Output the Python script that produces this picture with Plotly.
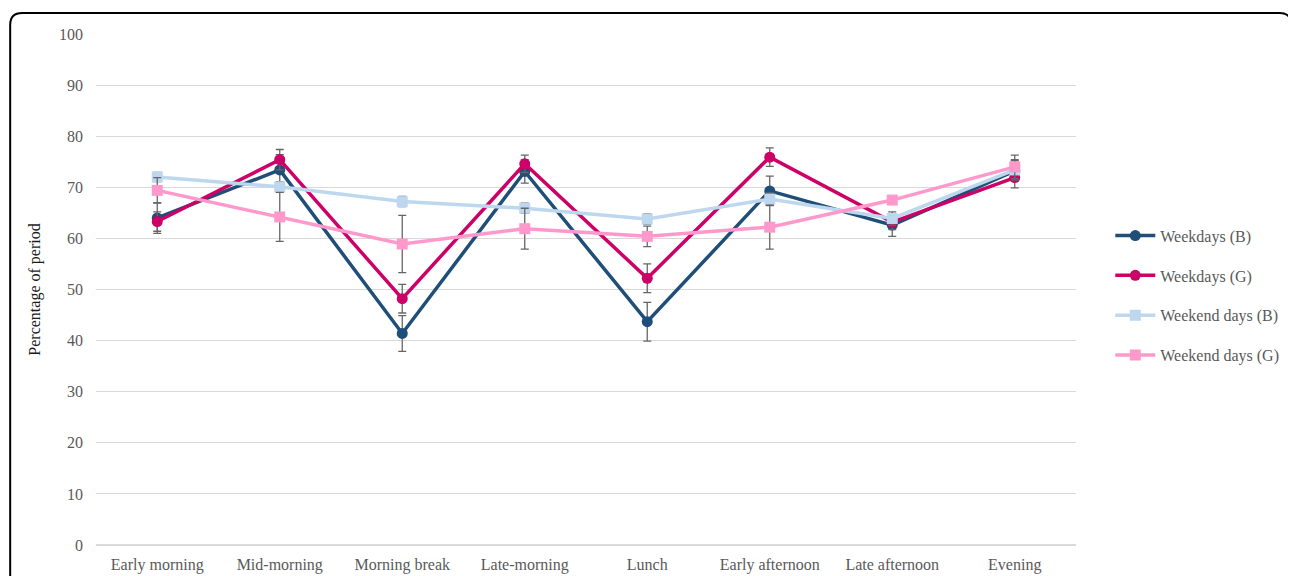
import plotly.graph_objects as go

# ─── DATA ───
categories = ["Early morning", "Mid-morning", "Morning break", "Late-morning",
              "Lunch", "Early afternoon", "Late afternoon", "Evening"]

weekdays_b = [64.0, 73.4, 41.4, 73.1, 43.7, 69.3, 62.6, 73.2]
weekdays_g = [63.3, 75.4, 48.2, 74.6, 52.2, 75.9, 63.2, 71.9]
weekend_b = [72.0, 70.1, 67.2, 65.9, 63.8, 67.7, 63.9, 73.4]
weekend_g = [69.4, 64.2, 58.9, 61.9, 60.4, 62.2, 67.5, 74.0]

weekdays_b_err = [3.0, 3.0, 3.5, 2.3, 3.8, 2.9, 2.2, 2.0]
weekdays_g_err = [1.9, 2.0, 2.8, 1.7, 2.8, 1.8, 1.5, 2.0]
weekend_b_err = [0.9, 1.0, 1.0, 1.0, 1.0, 1.2, 1.3, 2.0]
weekend_g_err = [2.5, 4.8, 5.6, 4.0, 2.0, 4.3, 0.8, 2.3]

y_ticks = list(range(0, 101, 10))

FONT = "Liberation Serif, Times New Roman, serif"
GREY = "#595959"

series = [
    ("Weekdays (B)", weekdays_b, weekdays_b_err, "#1F4E79", "circle"),
    ("Weekdays (G)", weekdays_g, weekdays_g_err, "#CC0066", "circle"),
    ("Weekend days (B)", weekend_b, weekend_b_err, "#BDD7EE", "square"),
    ("Weekend days (G)", weekend_g, weekend_g_err, "#FF99CC", "square"),
]

fig = go.Figure()
for i, (name, vals, err, color, sym) in enumerate(series):
    fig.add_trace(go.Scatter(
        x=categories, y=vals, name=name, mode="lines+markers",
        legendgroup=f"g{i}",
        line=dict(color=color, width=3.5),
        marker=dict(color=color, symbol=sym, size=11),
        error_y=dict(type="data", array=err, visible=True,
                     color="#666666", thickness=1.3, width=4),
    ))

# la pagina tiene margen de 8px en el body -> figura de 1288x568
W, H = 1288, 568
OFF = 8
L, R, T, B = 96 - OFF, 218, 34 - OFF, 31
pw, ph = W - L - R, H - T - B
def px(x): return (x - OFF - L) / pw
def py(y): return (H + OFF - B - y) / ph
# marco redondeado (coords paper)
x0, x1, y0, y1 = px(10), px(1294), py(13), py(620)
rx, ry = 12 / pw, 12 / ph
path = (f"M {x0},{y1} L {x0},{y0 - ry} Q {x0},{y0} {x0 + rx},{y0} "
        f"L {x1 - rx},{y0} Q {x1},{y0} {x1},{y0 - ry} L {x1},{y1}")

fig.update_layout(
    width=W, height=H,
    margin=dict(l=L, r=R, t=T, b=B),
    paper_bgcolor="white", plot_bgcolor="white",
    font=dict(family=FONT, size=16, color=GREY),
    showlegend=True,
    legend=dict(x=1.035, y=0.488, xanchor="left", yanchor="middle",
                font=dict(family=FONT, size=16, color=GREY),
                tracegroupgap=16, itemwidth=40),
    xaxis=dict(type="category", range=[-0.5, 7.5], showgrid=False,
               showline=False, ticks="", ticklabelstandoff=8,
               automargin=False, tickfont=dict(size=16, color=GREY)),
    yaxis=dict(range=[0, 100], tickvals=y_ticks, showgrid=True,
               gridcolor="#D9D9D9", gridwidth=1, zeroline=True,
               zerolinecolor="#D9D9D9", zerolinewidth=1.5, showline=False,
               ticks="", ticklabelstandoff=12, automargin=False,
               tickfont=dict(size=16, color=GREY),
               title=dict(text="Percentage of period",
                          font=dict(family=FONT, size=16, color="#1a1a1a"),
                          standoff=14)),
    shapes=[dict(type="path", xref="paper", yref="paper", path=path,
                 line=dict(color="black", width=2), fillcolor="rgba(0,0,0,0)",
                 layer="above")],
)

fig.write_html("out.html")
